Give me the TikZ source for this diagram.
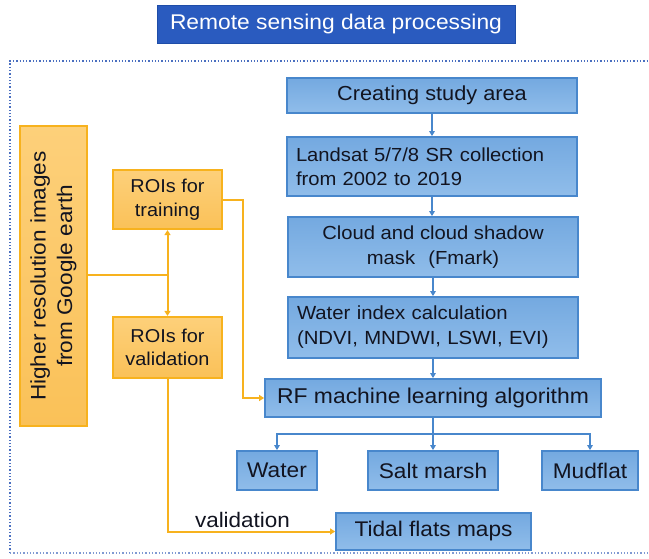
\documentclass[tikz,border=0pt]{standalone}
\usepackage{fontspec}
\setmainfont{Liberation Sans}[FakeStretch=1.07]
\usetikzlibrary{arrows.meta,positioning}
\definecolor{bluefill}{HTML}{74A9E0}
\definecolor{bluefillB}{HTML}{90BDEA}
\definecolor{blueline}{HTML}{4887CC}
\definecolor{orfill}{HTML}{FDD07A}
\definecolor{orfillB}{HTML}{FAC158}
\definecolor{orline}{HTML}{F7B21E}
\definecolor{titlefill}{HTML}{2A5BBF}
\definecolor{titleline}{HTML}{1E4DA8}
\definecolor{frameblue}{HTML}{4A6FC0}
\definecolor{txt}{HTML}{121420}
\newcommand{\fs}[2]{\fontsize{#1}{#2}\selectfont}
\begin{document}
\begin{tikzpicture}[x=1pt,y=-1pt,
  every node/.style={font=\fs{21}{24}, text=txt},
  bluebox/.style={draw=blueline, line width=1.8pt, top color=bluefill, bottom color=bluefillB, inner sep=0pt, align=center},
  orbox/.style={draw=orline, line width=2.2pt, top color=orfill, bottom color=orfillB, inner sep=0pt, align=center},
  bluearrow/.style={draw=blueline, line width=1.4pt, -{Triangle[width=5.5pt,length=5pt]}},
  orarrow/.style={draw=orline, line width=2pt, -{Triangle[width=6pt,length=5pt]}},
  orline/.style={draw=orline, line width=2pt}
]
\path[use as bounding box] (0,0) rectangle (649,558);
\fill[white] (0,0) rectangle (649,558);
% dotted frame (right side beyond the picture)
\draw[frameblue, line width=1.3pt, dotted] (10,553) -- (10,61) -- (660,61);
\draw[frameblue!70, line width=1.3pt, dotted] (10,553) -- (660,553);

% title
\node[draw=titleline, fill=titlefill, line width=1pt, minimum width=358pt, minimum height=38pt, inner sep=0pt, text=white, font=\fs{21.3}{24}] (title) at (336,24) {Remote sensing data processing};

% blue chain
\node[bluebox, minimum width=290pt, minimum height=35pt, font=\fs{20.3}{24}] (create) at (432,95.5) {Creating study area};
\node[bluebox, minimum width=290pt, minimum height=59pt, text width=272pt, align=left, font=\fs{18.9}{24}] (landsat) at (432,166.5) {Landsat 5/7/8 SR collection\\from 2002 to 2019};
\node[bluebox, minimum width=290pt, minimum height=60pt, font=\fs{18.9}{25}] (cloud) at (433,247) {Cloud and cloud shadow\\mask\hspace{0.7em}(Fmark)};
\node[bluebox, minimum width=290pt, minimum height=61pt, text width=272pt, align=left, font=\fs{19}{25}] (windex) at (433,327.5) {Water index calculation\\(NDVI, MNDWI, LSWI, EVI)};
\node[bluebox, minimum width=336pt, minimum height=38pt, font=\fs{21.4}{24}] (rf) at (433,398) {RF machine learning algorithm};
\node[bluebox, minimum width=80pt, minimum height=39pt, font=\fs{21.2}{24}] (water) at (277,470.5) {Water};
\node[bluebox, minimum width=130pt, minimum height=39pt, font=\fs{21.2}{24}] (salt) at (433,470.5) {Salt marsh};
\node[bluebox, minimum width=96pt, minimum height=39pt, font=\fs{21.2}{24}] (mud) at (590,470.5) {Mudflat};
\node[bluebox, minimum width=195pt, minimum height=37pt, font=\fs{21.2}{24}] (tidal) at (433.5,531.5) {Tidal flats maps};

% orange boxes
\node[orbox, minimum width=67pt, minimum height=300pt] (hires) at (53.5,276) {};
\node[rotate=90, align=center, font=\fs{21.1}{26.5}] (hirestxt) at (hires.center) {Higher resolution images\\from Google earth};
\node[orbox, minimum width=109pt, minimum height=59pt, font=\fs{18.6}{23.5}] (train) at (167.5,199.5) {ROIs for\\training};
\node[orbox, minimum width=109pt, minimum height=61pt, font=\fs{18.6}{23.5}] (valid) at (167.5,347.5) {ROIs for\\validation};

% blue connectors
\draw[bluearrow] (create.south) -- (create.south |- landsat.north);
\draw[bluearrow] (landsat.south) -- (landsat.south |- cloud.north);
\draw[bluearrow] (cloud.south) -- (cloud.south |- windex.north);
\draw[bluearrow] (windex.south) -- (windex.south |- rf.north);
\coordinate (br) at (433,434);
\draw[draw=blueline, line width=1.4pt] (rf.south) -- (br);
\draw[bluearrow] (br) -| (water.north);
\draw[bluearrow] (br) -- (salt.north);
\draw[bluearrow] (br) -| (mud.north);

% orange connectors
\coordinate (split) at (167.5,275);
\draw[orline] (hires.east |- split) -- (split);
\draw[orarrow] (split) -- (train.south);
\draw[orarrow] (split) -- (valid.north);
\coordinate (tr) at (243,199.5);
\draw[orarrow] (train.east) -- (tr) |- (rf.west);
\coordinate (vb) at (167.5,531.5);
\draw[orarrow] (valid.south) -- (vb) -- (tidal.west);
\node[anchor=base, font=\fs{21}{24}] (vlabel) at (242.5,527) {validation};
\end{tikzpicture}
\end{document}
